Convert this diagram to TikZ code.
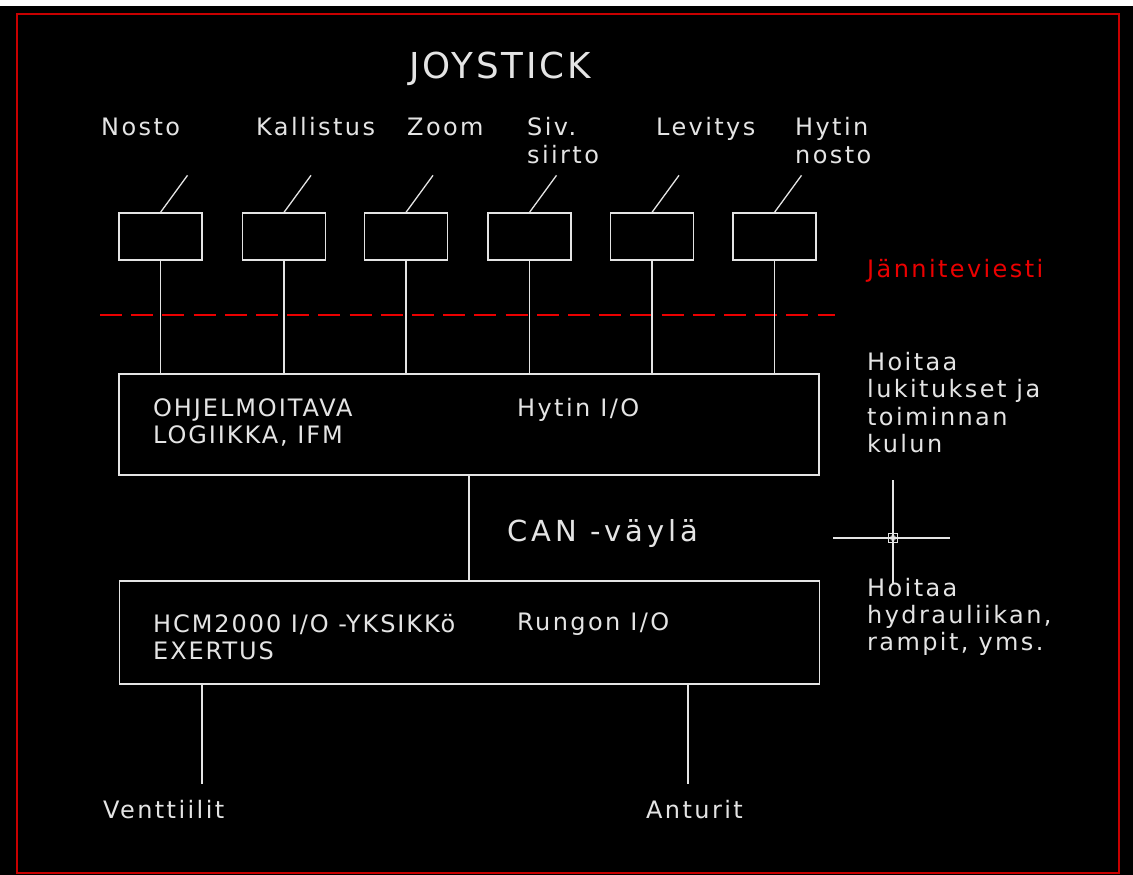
\documentclass[tikz,border=0pt]{standalone}
\usepackage{fontspec}
\usetikzlibrary{calc}
\newfontfamily\cadfont{DejaVu Sans}[LetterSpace=10]
\newfontfamily\cadcapfont{DejaVu Sans}[LetterSpace=8]
\newfontfamily\cadwidefont{DejaVu Sans}[LetterSpace=14]
\definecolor{cadw}{RGB}{228,228,228}
\definecolor{cadred}{RGB}{235,0,0}
\definecolor{frame}{RGB}{200,0,0}
\begin{document}
\begin{tikzpicture}[x=1pt,y=-1pt,
  lbl/.style={inner sep=0pt, anchor=base west, text=cadw, font=\cadfont\fontsize{24}{28}\selectfont},
  caplbl/.style={lbl, font=\cadcapfont\fontsize{24}{28}\selectfont},
  redlbl/.style={lbl, text=cadred},
  titlelbl/.style={lbl, font=\cadcapfont\fontsize{35.7}{40}\selectfont},
  canlbl/.style={lbl, font=\cadwidefont\fontsize{29}{34}\selectfont},
  sbox/.style={draw=cadw, line width=1.3pt, minimum width=83pt, minimum height=47pt, inner sep=0pt},
  bbox/.style={draw=cadw, line width=1.3pt, minimum width=700pt, inner sep=0pt},
  wire/.style={draw=cadw, line width=1.3pt},
  dashline/.style={draw=cadred, line width=1.5pt, dash pattern=on 22pt off 9.2pt},
  framebox/.style={draw=frame, line width=2pt}
]
\useasboundingbox (0,0) rectangle (1133,875);
\fill[white] (0,0) rectangle (1133,875);
\fill[black] (0,6) rectangle (1133,875);
\draw[framebox] (17,14) rectangle (1119,873);

% voltage signal line (under the wires)
\coordinate (d1) at (100,315);
\coordinate (d2) at (835,315);
\draw[dashline] (d1) -- (d2);

% title
\node[titlelbl] (title) at (409,79) {JOYSTICK};

% function labels
\node[lbl] (l1) at (101,135) {Nosto};
\node[lbl] (l2) at (256,135) {Kallistus};
\node[lbl] (l3) at (407,135) {Zoom};
\node[lbl] (l4a) at (527,135) {Siv.};
\node[lbl] (l4b) at (527,163) {siirto};
\node[lbl] (l5) at (656,135) {Levitys};
\node[lbl] (l6a) at (795,135) {Hytin};
\node[lbl] (l6b) at (795,163) {nosto};

% small boxes
\node[sbox] (b1) at (160.5,236.5) {};
\node[sbox] (b2) at (284,236.5) {};
\node[sbox] (b3) at (406,236.5) {};
\node[sbox] (b4) at (529.5,236.5) {};
\node[sbox] (b5) at (652,236.5) {};
\node[sbox] (b6) at (774.5,236.5) {};

% big boxes
\node[bbox, minimum height=101pt] (L) at (469,424.5) {};
\node[bbox, minimum height=103pt] (R) at (469.5,632.5) {};

% lever lines and connections
\foreach \i in {1,...,6}{
  \draw[wire] (b\i.north) -- ++(27,-37);
  \draw[wire] (b\i.south) -- (b\i.south |- L.north);
}

\node[redlbl] (jv) at (867,277) {Jänniteviesti};

% big box texts
\node[caplbl] (pa) at (153,416) {OHJELMOITAVA};
\node[caplbl] (pb) at (153,443) {LOGIIKKA, IFM};
\node[lbl] (hio) at (517,416) {Hytin I/O};
\node[caplbl] (ha) at (153,632) {HCM2000 I/O -YKSIKKö};
\node[caplbl] (hb) at (153,659) {EXERTUS};
\node[lbl] (rio) at (517,630) {Rungon I/O};

% CAN bus
\draw[wire] (L.south) -- (R.north -| L.south);
\node[canlbl] (can) at (507,541) {CAN -väylä};

% right notes
\node[lbl] (n1) at (867,370) {Hoitaa};
\node[lbl] (n2) at (867,397) {lukitukset ja};
\node[lbl] (n3) at (867,425) {toiminnan};
\node[lbl] (n4) at (867,452) {kulun};
\node[lbl] (m1) at (867,596) {Hoitaa};
\node[lbl] (m2) at (867,623) {hydrauliikan,};
\node[lbl] (m3) at (867,650) {rampit, yms.};

% cursor crosshair
\coordinate (cc) at (893,538);
\draw[wire] (833,538) -- (950,538);
\draw[wire] (893,480) -- (893,583);
\draw[cadw, line width=1pt] ($(cc)+(-4.5,-4.5)$) rectangle ($(cc)+(4.5,4.5)$);
\draw[cadw, line width=0.8pt] (cc) circle (2.5pt);

% outputs
\coordinate (v) at (202,784);
\coordinate (a) at (688,784);
\draw[wire] (R.south -| v) -- (v);
\draw[wire] (R.south -| a) -- (a);
\node[lbl] (ven) at (103,818) {Venttiilit};
\node[lbl] (ant) at (646,818) {Anturit};
\end{tikzpicture}
\end{document}
